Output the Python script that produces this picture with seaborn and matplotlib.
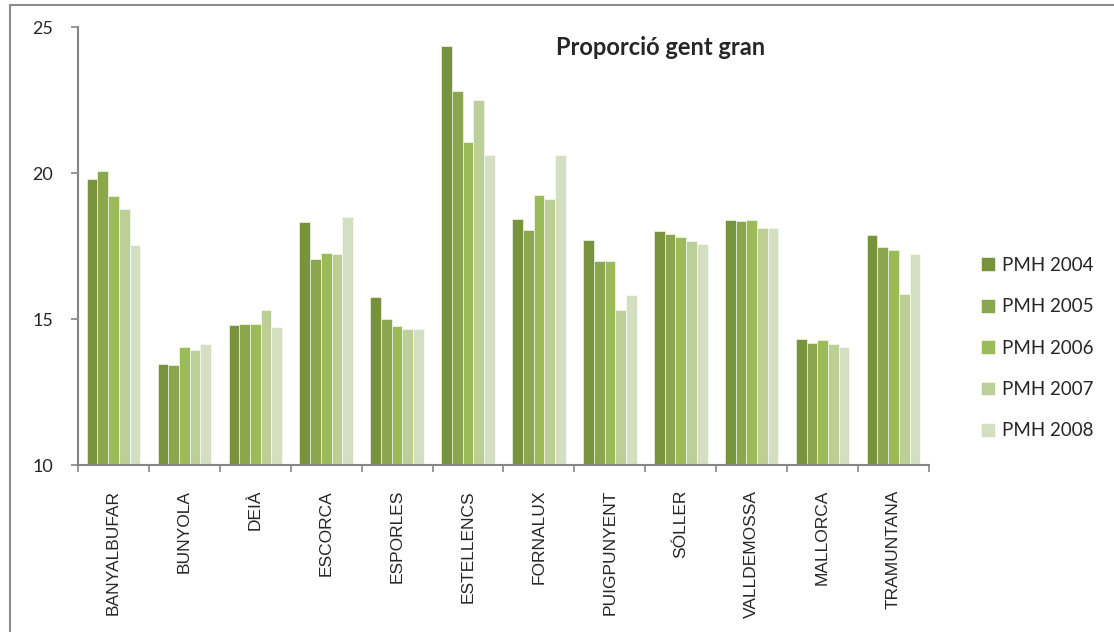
import numpy as np
import pandas as pd
import matplotlib
matplotlib.use("Agg")
import matplotlib.pyplot as plt
from matplotlib.patches import Rectangle
from matplotlib.ticker import FixedLocator
import seaborn as sns

categories = ["BANYALBUFAR", "BUNYOLA", "DEIÀ", "ESCORCA", "ESPORLES", "ESTELLENCS",
              "FORNALUX", "PUIGPUNYENT", "SÓLLER", "VALLDEMOSSA", "MALLORCA", "TRAMUNTANA"]
series = ["PMH 2004", "PMH 2005", "PMH 2006", "PMH 2007", "PMH 2008"]
pmh2004 = [19.80, 13.47, 14.79, 18.31, 15.75, 24.34, 18.41, 17.70, 18.00, 18.38, 14.33, 17.89]
pmh2005 = [20.07, 13.41, 14.83, 17.05, 14.99, 22.80, 18.05, 16.99, 17.91, 18.36, 14.17, 17.45]
pmh2006 = [19.22, 14.05, 14.83, 17.25, 14.77, 21.05, 19.25, 16.99, 17.81, 18.38, 14.27, 17.36]
pmh2007 = [18.77, 13.93, 15.30, 17.24, 14.65, 22.51, 19.10, 15.32, 17.67, 18.11, 14.13, 15.87]
pmh2008 = [17.52, 14.14, 14.72, 18.48, 14.66, 20.61, 20.62, 15.82, 17.58, 18.11, 14.03, 17.23]
yticks = [10, 15, 20, 25]
title = "Proporció gent gran"
colors = ["#77933C", "#8AA64E", "#9BBB59", "#BBCF96", "#D3DFC0"]

values = [pmh2004, pmh2005, pmh2006, pmh2007, pmh2008]
df = pd.DataFrame({
    "cat": [c for s in values for c in categories],
    "series": [name for name, s in zip(series, values) for _ in s],
    "val": [v for s in values for v in s],
})

sns.set_theme(style="white")
plt.rcParams["font.family"] = ["Liberation Sans", "DejaVu Sans"]

fig = plt.figure(figsize=(11.14, 6.32), dpi=100)
ax = fig.add_axes([78 / 1114, 1 - 465 / 632, (929 - 78) / 1114, (465 - 27) / 632])

sns.barplot(data=df, x="cat", y="val", hue="series", order=categories, hue_order=series,
            palette=colors, width=0.755, saturation=1, ax=ax, edgecolor="white",
            linewidth=0.4, legend=True)

ax.set_ylim(10, 25)
ax.set_xlim(-0.5, len(categories) - 0.5)
ax.set_yticks(yticks)
ax.set_yticklabels([str(t) for t in yticks], fontfamily="Lato", fontsize=13)
ax.set_xlabel("")
ax.set_ylabel("")
ax.set_xticks(range(len(categories)))
ax.set_xticklabels(categories, rotation=90, fontsize=12.5, va="top", ha="center")
ax.xaxis.set_minor_locator(FixedLocator(np.arange(-0.5, len(categories), 1.0)))
ax.tick_params(axis="x", which="major", length=0, pad=18)
ax.tick_params(axis="x", which="minor", length=5, width=1.2, color="#868686", direction="out", bottom=True)
ax.tick_params(axis="y", which="major", length=5, width=1.2, color="#868686", direction="out", left=True, pad=13)

for side in ["top", "right"]:
    ax.spines[side].set_visible(False)
for side in ["left", "bottom"]:
    ax.spines[side].set_color("#868686")
    ax.spines[side].set_linewidth(1.5)
ax.grid(False)

ax.text(0.685, 0.954, title, transform=ax.transAxes, ha="center", va="center",
        fontsize=17, fontweight="bold", fontfamily="Lato")

handles, labels = ax.get_legend_handles_labels()
leg = ax.legend(handles, labels, loc="center left", bbox_to_anchor=(1.05, 0.267),
                frameon=False, fontsize=13.5, handlelength=0.75, handleheight=0.75,
                handletextpad=0.4, labelspacing=1.3, borderpad=0)
for t in leg.get_texts():
    t.set_fontfamily("Lato")

fig.patches.append(Rectangle((10 / 1114, -0.1), 1.2, 1 - 5 / 632 + 0.1, transform=fig.transFigure,
                             fill=False, edgecolor="#8C8C8C", linewidth=1.5))

fig.savefig("out.png", dpi=100, facecolor="white")
